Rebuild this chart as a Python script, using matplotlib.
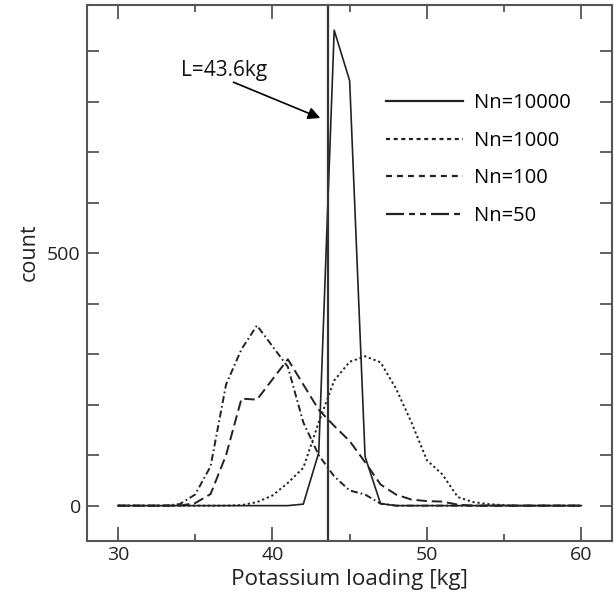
import matplotlib
matplotlib.use("Agg")
import matplotlib.pyplot as plt
from matplotlib.lines import Line2D
from matplotlib.ticker import FixedLocator, NullFormatter

plt.rcParams["font.family"] = ["Open Sans", "DejaVu Sans"]
plt.rcParams["lines.scale_dashes"] = False

# histogram bins, 1 kg wide
loading = list(range(30, 61))

# counts per bin
nn10000 = [0] * 12 + [3, 105, 942, 842, 97, 4] + [0] * 13
nn1000 = [0] * 8 + [1, 7, 20, 45, 75, 165, 248, 285, 296, 284, 232, 165, 90, 62,
                    17, 7, 3, 1] + [0] * 5
nn100 = [0] * 5 + [5, 23, 100, 212, 210, 250, 290, 240, 190, 158, 128, 86, 42, 22,
                   12, 9, 8, 2] + [0] * 8
nn50 = [0] * 4 + [3, 22, 78, 240, 310, 357, 316, 275, 165, 100, 58, 30, 22, 4] + [0] * 13

L_value = 43.6

labels = ["Nn=10000", "Nn=1000", "Nn=100", "Nn=50"]

ink = "#222222"
frame = "#555555"

fig = plt.figure(figsize=(6.14, 5.95), dpi=100)
ax = fig.add_axes([0.1417, 0.0908, 0.8555, 0.9008])

# dash patterns as drawn on the curves (points)
ax.plot(loading, nn50, color=ink, lw=1.4, dashes=(5.0, 2.2, 1.2, 2.2))
ax.plot(loading, nn100, color=ink, lw=1.4, dashes=(7.5, 3.5))
ax.plot(loading, nn1000, color=ink, lw=1.4, dashes=(1.6, 2.0))
ax.plot(loading, nn10000, color=ink, lw=1.2, linestyle="-")

ax.axvline(L_value, color="#333333", lw=1.6)

ax.text(36.84, 862, f"L={L_value}kg", ha="center", va="center", fontsize=15,
        color="#111111")
ax.annotate("", xy=(43.1, 768), xytext=(37.48, 839),
            arrowprops=dict(arrowstyle="-|>", color="black", lw=1.2,
                            mutation_scale=18, shrinkA=0, shrinkB=0))

ax.set_xlim(28.0, 62.0)
ax.set_ylim(-70, 992)

ax.xaxis.set_major_locator(FixedLocator([30, 40, 50, 60]))
ax.xaxis.set_minor_locator(FixedLocator([35, 45, 55]))
ax.yaxis.set_major_locator(FixedLocator([0, 500]))
ax.yaxis.set_minor_locator(FixedLocator([100, 200, 300, 400, 600, 700, 800, 900]))
ax.yaxis.set_minor_formatter(NullFormatter())

ax.tick_params(which="both", direction="in", top=True, right=True,
               color=frame, width=1.3, labelsize=14, labelcolor="#222222")
ax.tick_params(axis="x", which="major", length=10, pad=3.5)
ax.tick_params(axis="x", which="minor", length=5)
ax.tick_params(axis="y", which="both", length=8.5, pad=4.5)

for s in ax.spines.values():
    s.set_color(frame)
    s.set_linewidth(1.5)

ax.set_xlabel("Potassium loading [kg]", fontsize=16.2, color="#222222")
ax.set_ylabel("count", fontsize=15.5, color="#222222")
ax.yaxis.set_label_coords(-0.09, 0.539)

# legend samples use the longer dashes shown in the key
handles = [
    Line2D([], [], color=ink, lw=1.6, linestyle="-"),
    Line2D([], [], color=ink, lw=1.6, dashes=(2.9, 2.6)),
    Line2D([], [], color=ink, lw=1.6, dashes=(4.3, 3.6)),
    Line2D([], [], color=ink, lw=1.6, dashes=(13.0, 3.6, 4.3, 3.6, 4.3, 3.6)),
]
ax.legend(handles, labels, loc="upper left", bbox_to_anchor=(0.57, 0.835),
          frameon=False, fontsize=14.5, handlelength=3.8, handletextpad=0.55,
          labelspacing=0.87, borderpad=0, borderaxespad=0)

fig.savefig("out.png", dpi=100)
